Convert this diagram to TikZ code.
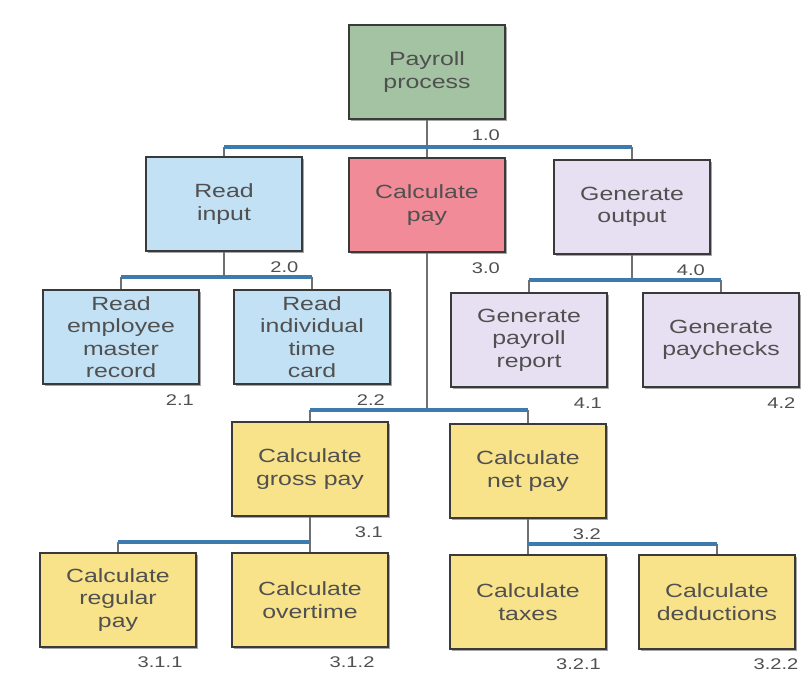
\documentclass[tikz,border=0pt]{standalone}
\usepackage{fontspec}
\setmainfont[FakeStretch=1.3]{Liberation Sans}
\usepackage{xcolor}
\definecolor{colGreen}{HTML}{A3C3A2}
\definecolor{colBlue}{HTML}{C2E1F4}
\definecolor{colRed}{HTML}{F28B98}
\definecolor{colLilac}{HTML}{E7DFF2}
\definecolor{colYellow}{HTML}{F8E38B}
\definecolor{colEdge}{HTML}{3A3A3A}
\definecolor{colText}{HTML}{505050}
\definecolor{colBar}{HTML}{3D7AAE}
\definecolor{colStem}{HTML}{707070}
\usepackage{tikz}
\usetikzlibrary{positioning, shadows}
\tikzset{
    chartbox/.style={
        draw=colEdge, fill=#1,
        line width=1.1pt,
        minimum width=3.9cm, minimum height=2.35cm,
        align=center, text=colText,
        font=\fontsize{13.6}{16}\selectfont,
        drop shadow={shadow xshift=1.3pt, shadow yshift=-1.3pt,
                     fill=colEdge, opacity=0.45}
    },
    chartbox/.default=colYellow,
    numlbl/.style={text=colText, font=\fontsize{11}{12}\selectfont, inner sep=1pt},
    stem/.style={colStem, line width=0.8pt},
    hbar/.style={colBar, line width=2.4pt},
}

\begin{document}
\begin{tikzpicture}[x=0.025cm, y=-0.025cm]
    \useasboundingbox[fill=white] (0,0) rectangle (810,677);
    % level 0 and 1
    \node[chartbox=colGreen] (pp) at (427,72) {Payroll\\process};
    \node[chartbox=colBlue] (ri) at (224,204) {Read\\input};
    \node[chartbox=colRed] (cp) at (427,205) {Calculate\\pay};
    \node[chartbox=colLilac] (go) at (632,207) {Generate\\output};
    % level 2
    \node[chartbox=colBlue] (rm) at (121,337) {Read\\employee\\master\\record};
    \node[chartbox=colBlue] (rt) at (312,337) {Read\\individual\\time\\card};
    \node[chartbox=colLilac] (gr) at (529,340) {Generate\\payroll\\report};
    \node[chartbox=colLilac] (gc) at (721,340) {Generate\\paychecks};
    \node[chartbox] (gp) at (310,469) {Calculate\\gross pay};
    \node[chartbox] (np) at (528,471) {Calculate\\net pay};
    % level 3
    \node[chartbox] (rp) at (118,600) {Calculate\\regular\\pay};
    \node[chartbox] (ot) at (310,600) {Calculate\\overtime};
    \node[chartbox] (tx) at (528,602) {Calculate\\taxes};
    \node[chartbox] (dd) at (717,602) {Calculate\\deductions};

    % numbers
    \node[numlbl, below left=6pt and 3pt of pp.south east] (pp-n) {1.0};
    \node[numlbl, below left=6pt and 2pt of ri.south east] (ri-n) {2.0};
    \node[numlbl, below left=6pt and 3pt of cp.south east] (cp-n) {3.0};
    \node[numlbl, below left=6pt and 3pt of go.south east] (go-n) {4.0};
    \node[numlbl, below left=6pt and 3pt of rm.south east] (rm-n) {2.1};
    \node[numlbl, below left=6pt and 3pt of rt.south east] (rt-n) {2.2};
    \node[numlbl, below left=6pt and 3pt of gr.south east] (gr-n) {4.1};
    \node[numlbl, below left=6pt and 2pt of gc.south east] (gc-n) {4.2};
    \node[numlbl, below left=6pt and 3pt of gp.south east] (gp-n) {3.1};
    \node[numlbl, below left=6pt and 3pt of np.south east] (np-n) {3.2};
    \node[numlbl, below left=5pt and 9pt of rp.south east] (rp-n) {3.1.1};
    \node[numlbl, below left=5pt and 9pt of ot.south east] (ot-n) {3.1.2};
    \node[numlbl, below left=5pt and 3pt of tx.south east] (tx-n) {3.2.1};
    \node[numlbl, below left=5pt and -3pt of dd.south east] (dd-n) {3.2.2};

    % junctions
    \coordinate (j0) at (427,147);
    \coordinate (j2) at (224,277);
    \coordinate (j4) at (632,280);
    \coordinate (j3) at (427,410);
    \coordinate (j31) at (310,542);
    \coordinate (j32) at (528,544);

    % connectors
    \draw[stem] (pp.south) -- (cp.north);
    \draw[stem] (ri.north |- j0) -- (ri.north);
    \draw[stem] (go.north |- j0) -- (go.north);
    \draw[hbar] (ri.north |- j0) -- (go.north |- j0);

    \draw[stem] (ri.south) -- (j2);
    \draw[stem] (rm.north |- j2) -- (rm.north);
    \draw[stem] (rt.north |- j2) -- (rt.north);
    \draw[hbar] (rm.north |- j2) -- (rt.north |- j2);

    \draw[stem] (go.south) -- (j4);
    \draw[stem] (gr.north |- j4) -- (gr.north);
    \draw[stem] (gc.north |- j4) -- (gc.north);
    \draw[hbar] (gr.north |- j4) -- (gc.north |- j4);

    \draw[stem] (cp.south) -- (j3);
    \draw[stem] (gp.north |- j3) -- (gp.north);
    \draw[stem] (np.north |- j3) -- (np.north);
    \draw[hbar] (gp.north |- j3) -- (np.north |- j3);

    \draw[stem] (gp.south) -- (j31);
    \draw[stem] (rp.north |- j31) -- (rp.north);
    \draw[stem] (ot.north |- j31) -- (ot.north);
    \draw[hbar] (rp.north |- j31) -- (ot.north |- j31);

    \draw[stem] (np.south) -- (j32);
    \draw[stem] (tx.north |- j32) -- (tx.north);
    \draw[stem] (dd.north |- j32) -- (dd.north);
    \draw[hbar] (tx.north |- j32) -- (dd.north |- j32);
\end{tikzpicture}
\end{document}
